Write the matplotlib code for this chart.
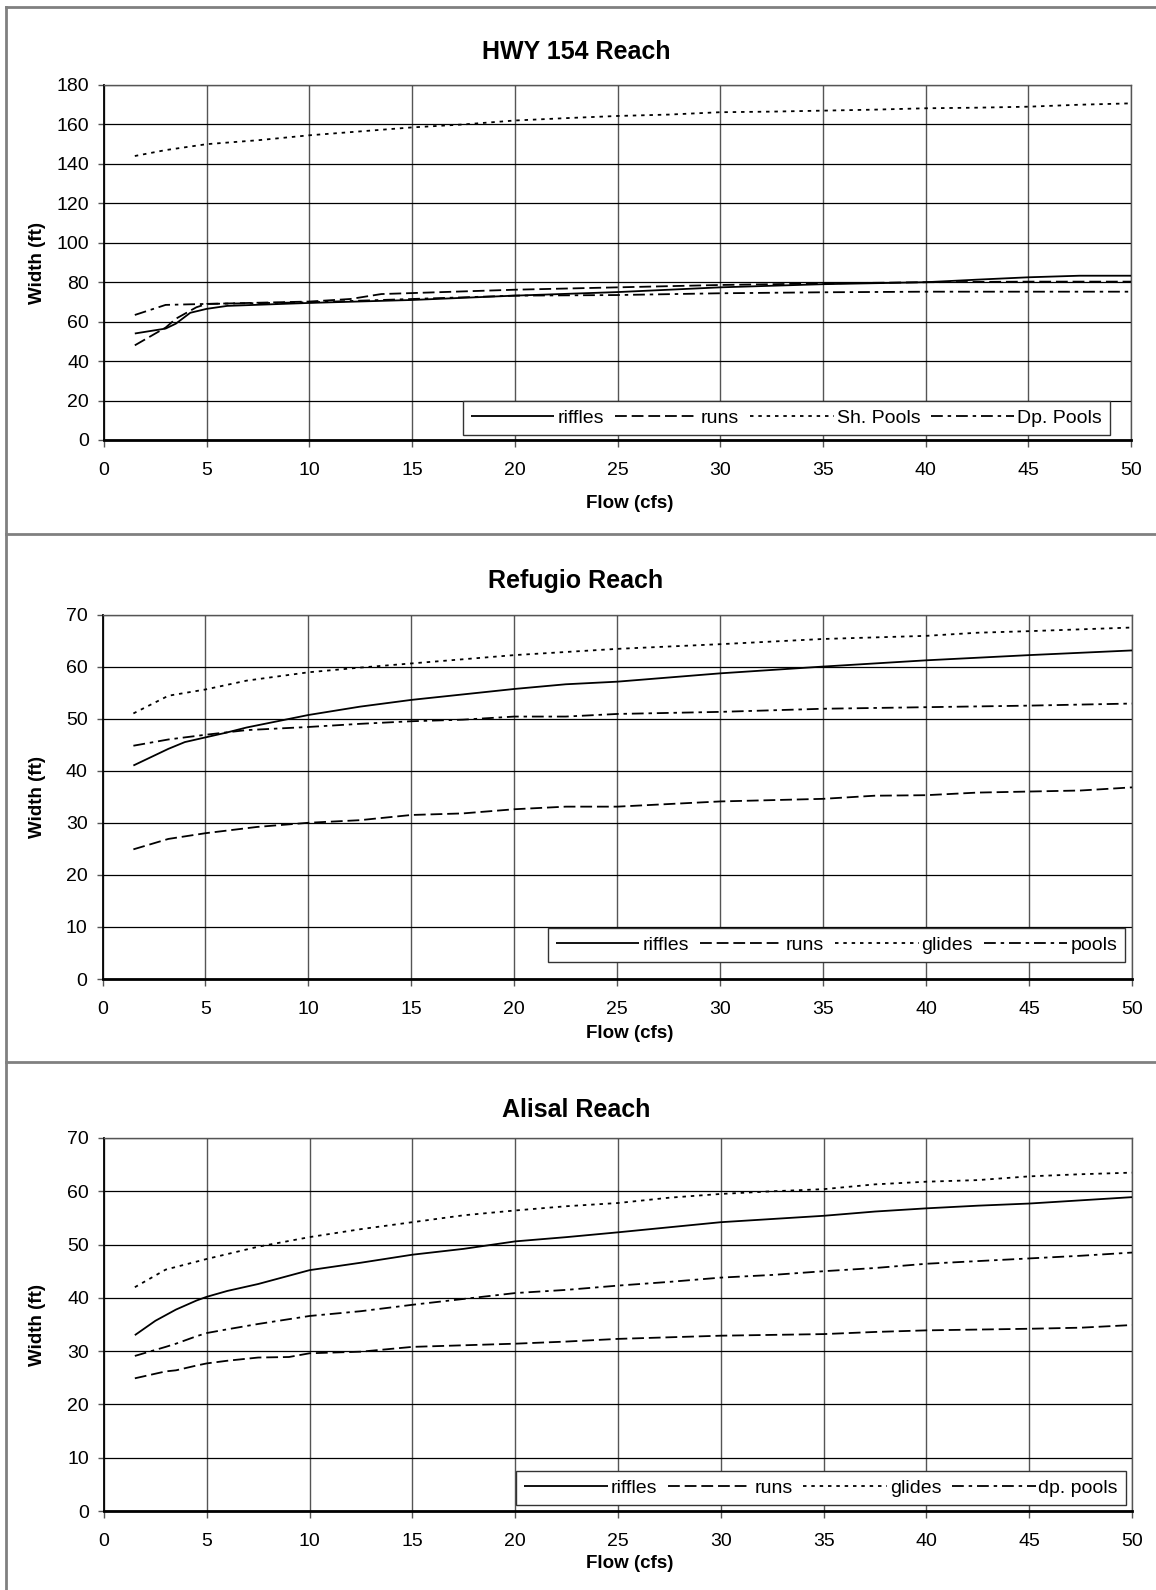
import matplotlib
matplotlib.use("Agg")
import matplotlib.pyplot as plt
from matplotlib.lines import Line2D

plt.rcParams["font.family"] = ["Liberation Sans", "DejaVu Sans"]
plt.rcParams["lines.scale_dashes"] = False

W, H = 1156, 1590

# ---- HWY 154 Reach ----
hwy_riffles_x = [1.5, 3, 3.5, 4.2, 5, 6, 10, 15, 20, 25, 30, 35, 40, 42.5, 45, 47.5, 50]
hwy_riffles_y = [54, 56.5, 59, 64.5, 66.5, 68, 69.5, 71, 73.2, 75, 77.4, 79, 80, 81.3, 82.5, 83.3, 83.3]
hwy_runs_x = [1.5, 3, 3.5, 4.5, 5, 10, 12, 13.5, 15, 20, 25, 30, 35, 40, 45, 50]
hwy_runs_y = [48, 57, 61.5, 67.3, 69, 70.2, 71.5, 74, 74.5, 76.2, 77.4, 78.6, 79.4, 80, 80.3, 80.3]
hwy_sh_x = [1.5, 3, 5, 7.5, 10, 12.5, 15, 17.5, 20, 22.5, 25, 27.5, 30, 32.5, 35, 37.5, 40, 42.5, 45, 47.5, 50]
hwy_sh_y = [144, 147, 150, 152, 154.5, 156.5, 158.5, 160, 162, 163.2, 164.3, 165, 166.2, 166.5,
            167, 167.5, 168.2, 168.5, 169, 170, 170.7]
hwy_dp_x = [1.5, 3, 5, 10, 15, 20, 25, 30, 35, 40, 45, 50]
hwy_dp_y = [63.4, 68.5, 69, 69.8, 71.5, 73.2, 73.5, 74.4, 74.9, 75.2, 75.2, 75.2]

# ---- Refugio Reach ----
ref_riffles_x = [1.5, 3.2, 4, 5, 6, 7, 9, 10, 12.5, 15, 20, 22.5, 25, 30, 35, 40, 45, 50]
ref_riffles_y = [41, 44.2, 45.5, 46.4, 47.3, 48.3, 49.9, 50.7, 52.3, 53.6, 55.7, 56.6, 57.1, 58.7,
                 60, 61.2, 62.2, 63.1]
ref_runs_x = [1.5, 3.2, 5, 7.5, 10, 12.5, 15, 17.5, 20, 22.5, 25, 30, 35, 37.5, 40, 42.5, 45, 47.5, 50]
ref_runs_y = [24.9, 26.9, 28, 29.2, 30, 30.5, 31.5, 31.8, 32.6, 33.1, 33.1, 34.1, 34.6, 35.2,
              35.3, 35.8, 36, 36.2, 36.8]
ref_glides_x = [1.5, 3.2, 5, 7, 10, 12.5, 15, 20, 25, 30, 35, 40, 42.5, 45, 50]
ref_glides_y = [51, 54.4, 55.6, 57.3, 58.9, 59.8, 60.6, 62.2, 63.4, 64.3, 65.3, 65.9, 66.5, 66.8, 67.5]
ref_pools_x = [1.5, 3.2, 5, 7, 10, 12.5, 15, 17.5, 20, 22.5, 25, 30, 32.5, 35, 40, 45, 50]
ref_pools_y = [44.8, 46, 46.9, 47.8, 48.4, 49, 49.5, 49.8, 50.4, 50.4, 50.9, 51.3, 51.6, 51.9,
               52.2, 52.5, 52.9]

# ---- Alisal Reach ----
ali_riffles_x = [1.5, 2.5, 3.5, 4.5, 5, 6, 7.5, 10, 12.5, 15, 17.5, 20, 22.5, 25, 30, 35, 37.5,
                 40, 42.5, 45, 50]
ali_riffles_y = [33, 35.7, 37.8, 39.5, 40.2, 41.3, 42.6, 45.2, 46.6, 48.1, 49.2, 50.6, 51.4, 52.3,
                 54.2, 55.4, 56.2, 56.8, 57.3, 57.7, 58.9]
ali_runs_x = [1.5, 3, 3.5, 4.5, 5, 6, 7.5, 9, 10, 12.5, 15, 17.5, 20, 22.5, 25, 27.5, 30, 35,
              37.5, 40, 45, 47.5, 50]
ali_runs_y = [24.9, 26.2, 26.4, 27.3, 27.7, 28.2, 28.8, 28.9, 29.6, 29.9, 30.8, 31.1, 31.4, 31.8,
              32.3, 32.6, 32.9, 33.2, 33.6, 33.9, 34.2, 34.4, 34.9]
ali_glides_x = [1.5, 3, 4, 5, 7.5, 10, 12.5, 15, 17.5, 20, 22.5, 25, 27.5, 30, 32.5, 35, 37.5,
                40, 42.5, 45, 47.5, 50]
ali_glides_y = [42, 45.3, 46.3, 47.3, 49.6, 51.4, 52.9, 54.2, 55.5, 56.4, 57.2, 57.8, 58.8, 59.5,
                60, 60.4, 61.3, 61.8, 62.1, 62.8, 63.2, 63.5]
ali_dp_x = [1.5, 3, 3.5, 4.5, 5, 6, 7.5, 10, 12.5, 15, 17.5, 20, 22.5, 25, 27.5, 30, 32.5, 35,
            37.5, 40, 42.5, 45, 47.5, 50]
ali_dp_y = [29.1, 30.8, 31.4, 32.8, 33.4, 34.1, 35.1, 36.6, 37.5, 38.7, 39.8, 40.9, 41.5, 42.3,
            43, 43.8, 44.3, 45, 45.6, 46.4, 46.9, 47.4, 47.9, 48.5]

X_TICKS = [0, 5, 10, 15, 20, 25, 30, 35, 40, 45, 50]

# line styles (absolute points, dashes not scaled)
SOLID = "-"
DASHED = (0, (8.5, 3.5))
DOTTED = (0, (2.5, 3.5))
DASHDOT = (0, (8.5, 3.5, 2.5, 3.5))
STYLES = [SOLID, DASHED, DOTTED, DASHDOT]

PANELS = [
    dict(title="HWY 154 Reach", box=(104, 1131, 85, 440), ylim=180, ystep=20,
         title_y=52, xlabel_y=504, legend_c=(786.5, 418),
         series=[(hwy_riffles_x, hwy_riffles_y), (hwy_runs_x, hwy_runs_y),
                 (hwy_sh_x, hwy_sh_y), (hwy_dp_x, hwy_dp_y)],
         labels=["riffles", "runs", "Sh. Pools", "Dp. Pools"]),
    dict(title="Refugio Reach", box=(102.5, 1132, 614.5, 979), ylim=70, ystep=10,
         title_y=581, xlabel_y=1033, legend_c=(836.5, 945),
         series=[(ref_riffles_x, ref_riffles_y), (ref_runs_x, ref_runs_y),
                 (ref_glides_x, ref_glides_y), (ref_pools_x, ref_pools_y)],
         labels=["riffles", "runs", "glides", "pools"]),
    dict(title="Alisal Reach", box=(104, 1132, 1138, 1511), ylim=70, ystep=10,
         title_y=1110, xlabel_y=1563, legend_c=(821, 1488),
         series=[(ali_riffles_x, ali_riffles_y), (ali_runs_x, ali_runs_y),
                 (ali_glides_x, ali_glides_y), (ali_dp_x, ali_dp_y)],
         labels=["riffles", "runs", "glides", "dp. pools"]),
]

fig = plt.figure(figsize=(W / 100, H / 100), dpi=100)
fig.patch.set_facecolor("white")

# panel frame lines (gray), like the pasted chart objects
border = dict(color="#808080", linewidth=2.0, transform=fig.transFigure)
fig.add_artist(Line2D([5.5 / W, 5.5 / W], [0, 1 - 7 / H], **border))
for yy in [7, 534, 1062]:
    fig.add_artist(Line2D([5.5 / W, 1], [1 - yy / H, 1 - yy / H], **border))

for p in PANELS:
    l, r, t, b = p["box"]
    ax = fig.add_axes([l / W, 1 - b / H, (r - l) / W, (b - t) / H])
    for (xs, ys), ls, lab in zip(p["series"], STYLES, p["labels"]):
        ax.plot(xs, ys, linestyle=ls, color="black", linewidth=1.3, label=lab,
                solid_capstyle="butt", dash_capstyle="butt", zorder=3)

    ax.set_xlim(0, 50)
    ax.set_ylim(0, p["ylim"])
    ax.set_xticks(X_TICKS)
    ax.set_yticks(range(0, p["ylim"] + 1, p["ystep"]))
    ax.grid(True, axis="y", color="black", linewidth=0.9, zorder=0)
    ax.grid(True, axis="x", color="#555555", linewidth=1.0, zorder=0)
    ax.set_axisbelow(True)

    for side in ["top", "right"]:
        ax.spines[side].set_color("#555555")
        ax.spines[side].set_linewidth(1.0)
    ax.spines["left"].set_linewidth(1.3)
    ax.spines["bottom"].set_linewidth(2.0)

    ax.tick_params(axis="y", direction="out", length=4.3, width=1.0, pad=6.5,
                   labelsize=14, color="#555555")
    ax.tick_params(axis="x", direction="out", length=5, width=1.0, pad=11,
                   labelsize=14, color="#555555")

    leg = ax.legend(loc="center", ncol=4,
                    bbox_to_anchor=(p["legend_c"][0] / W, 1 - p["legend_c"][1] / H),
                    bbox_transform=fig.transFigure,
                    fontsize=14, handlelength=4.3, handletextpad=0.15,
                    columnspacing=0.55, borderpad=0.4, borderaxespad=0,
                    frameon=True, fancybox=False, framealpha=1,
                    edgecolor="#333333", facecolor="white")
    leg.get_frame().set_linewidth(1.0)
    leg.set_zorder(5)

    fig.text(576 / W, 1 - p["title_y"] / H, p["title"], ha="center", va="center",
             fontsize=18, fontweight="bold")
    fig.text(630 / W, 1 - p["xlabel_y"] / H, "Flow (cfs)", ha="center", va="center",
             fontsize=13.5, fontweight="bold")
    fig.text(37 / W, 1 - (t + b) / 2 / H, "Width (ft)", ha="center", va="center",
             rotation=90, fontsize=13.5, fontweight="bold")

fig.savefig("out.png", dpi=100, facecolor="white")
